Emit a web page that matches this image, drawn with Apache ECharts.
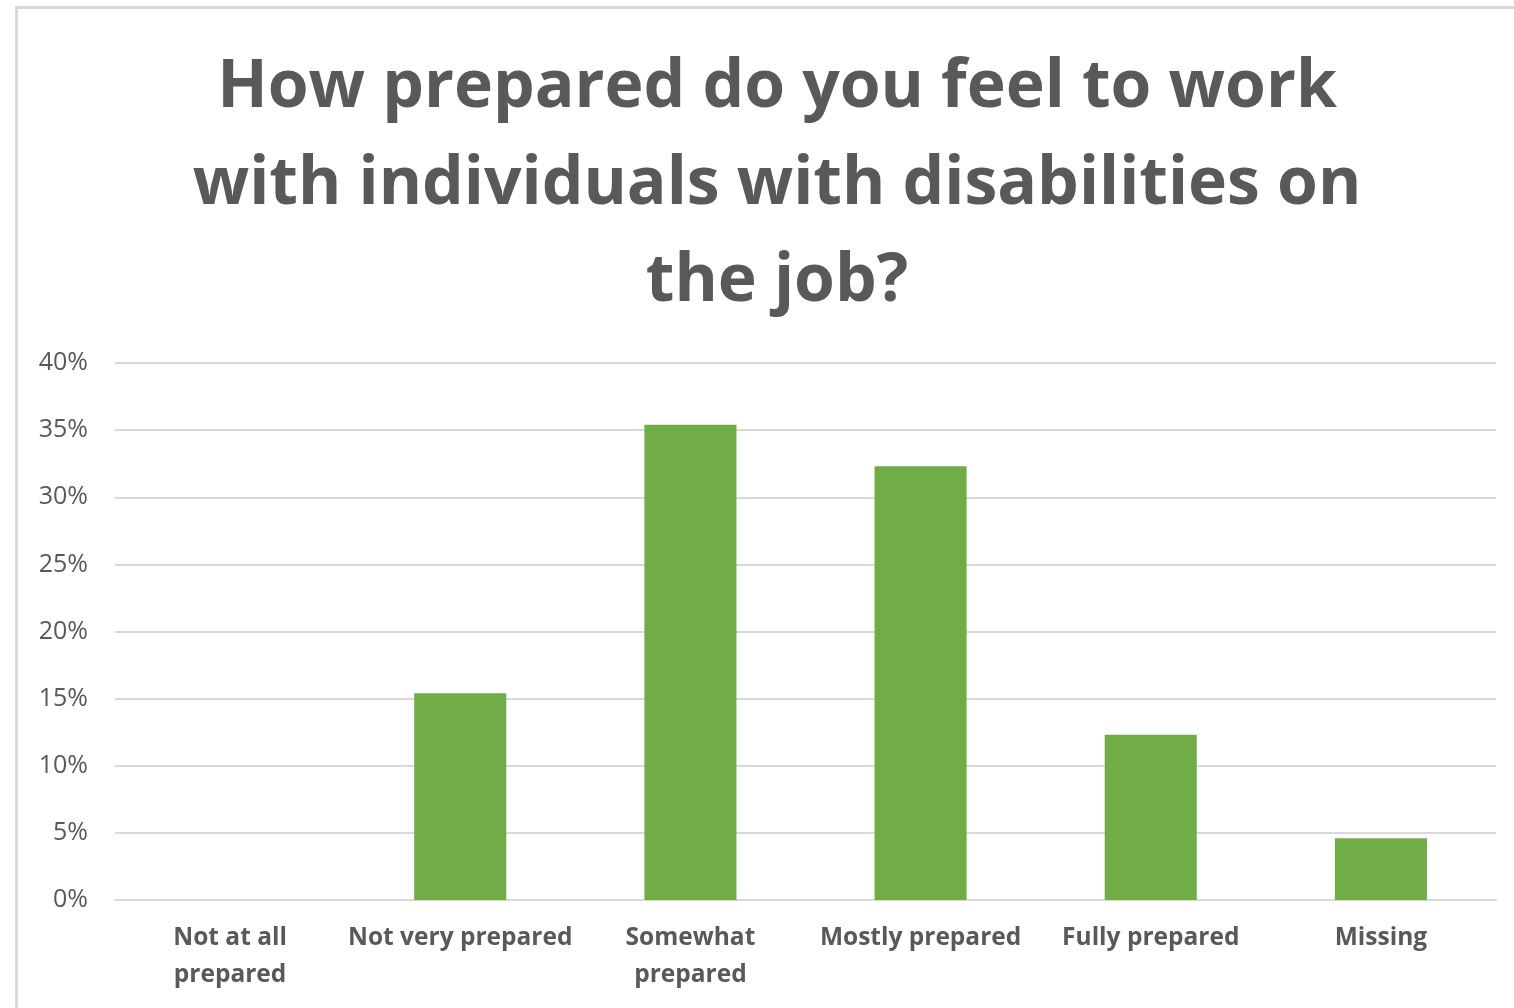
<!DOCTYPE html>
<html>
<head>
<meta charset="utf-8">
<script src="https://cdn.jsdelivr.net/npm/echarts@6/dist/echarts.min.js"></script>
<style>
  html, body { margin: 0; padding: 0; background: #fff; }
  #frame {
    position: absolute; left: 15px; top: 6px; width: 1499px; height: 1002px;
    border-left: 3px solid #d9d9d9; border-top: 3px solid #d9d9d9;
    box-sizing: border-box;
  }
  #main { position: absolute; left: 0; top: 0; width: 1514px; height: 1008px; }
</style>
</head>
<body>
<div id="frame"></div>
<div id="main"></div>
<script>
// categories and values (percent)
const categories = [
  "Not at all\nprepared",
  "Not very prepared",
  "Somewhat\nprepared",
  "Mostly prepared",
  "Fully prepared",
  "Missing"
];
const values = [0, 15.4, 35.4, 32.3, 12.3, 4.6];
const yTicks = { min: 0, max: 40, step: 5 };

var myChart = echarts.init(document.getElementById("main"));
var option = {
  animation: false,
  title: {
    text: "How prepared do you feel to work\nwith individuals with disabilities on\nthe job?",
    left: 772,
    top: 35,
    textAlign: "center",
    textStyle: {
      fontFamily: "Open Sans",
      fontWeight: "bold",
      fontSize: 66,
      lineHeight: 97,
      color: "#595959",
    },
  },
  grid: {
    left: 115,
    right: 18,
    top: 363,
    bottom: 108,
  },
  xAxis: {
    type: "category",
    data: categories,
    axisTick: { show: false },
    axisLine: { lineStyle: { color: "#d9d9d9", width: 2 } },
    axisLabel: {
      color: "#595959",
      fontFamily: "Open Sans",
      fontWeight: "bold",
      fontSize: 24.5,
      lineHeight: 37,
      margin: 20,
      interval: 0,
    },
  },
  yAxis: {
    type: "value",
    min: yTicks.min,
    max: yTicks.max,
    interval: yTicks.step,
    axisLine: { show: false },
    axisTick: { show: false },
    axisLabel: {
      formatter: "{value}%",
      color: "#595959",
      fontFamily: "Open Sans",
      fontSize: 25,
      margin: 27,
    },
    splitLine: { lineStyle: { color: "#d9d9d9", width: 2 } },
  },
  series: [
    {
      type: "bar",
      data: values,
      barWidth: "40%",
      itemStyle: { color: "#70ad47" },
    },
  ],
};
option && myChart.setOption(option);
</script>
</body>
</html>
